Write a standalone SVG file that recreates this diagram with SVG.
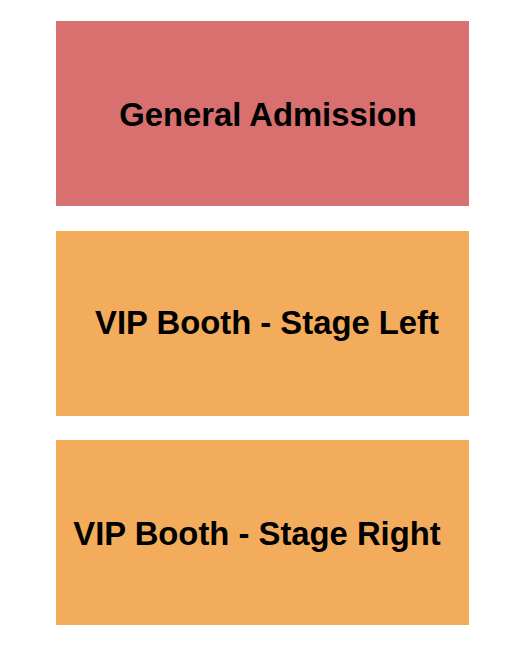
<svg xmlns="http://www.w3.org/2000/svg" width="525" height="650" viewBox="0 0 525 650">
<style>
.lbl{font-family:"Liberation Sans",Arial,sans-serif;font-weight:bold;font-size:32.8px;fill:#000;text-anchor:middle}
.ga{fill:#d7706f}
.vip{fill:#f3ac5c}
</style>
<rect width="525" height="650" fill="#fff"/>
<g id="general-admission">
<rect class="ga" x="56" y="21" width="413" height="185"/>
<text class="lbl" x="268" y="126">General Admission</text>
</g>
<g id="vip-stage-left">
<rect class="vip" x="56" y="231" width="413" height="185"/>
<text class="lbl" x="267" y="334">VIP Booth - Stage Left</text>
</g>
<g id="vip-stage-right">
<rect class="vip" x="56" y="440" width="413" height="185"/>
<text class="lbl" x="257" y="545">VIP Booth - Stage Right</text>
</g>
<g id="connectors"></g>
</svg>
